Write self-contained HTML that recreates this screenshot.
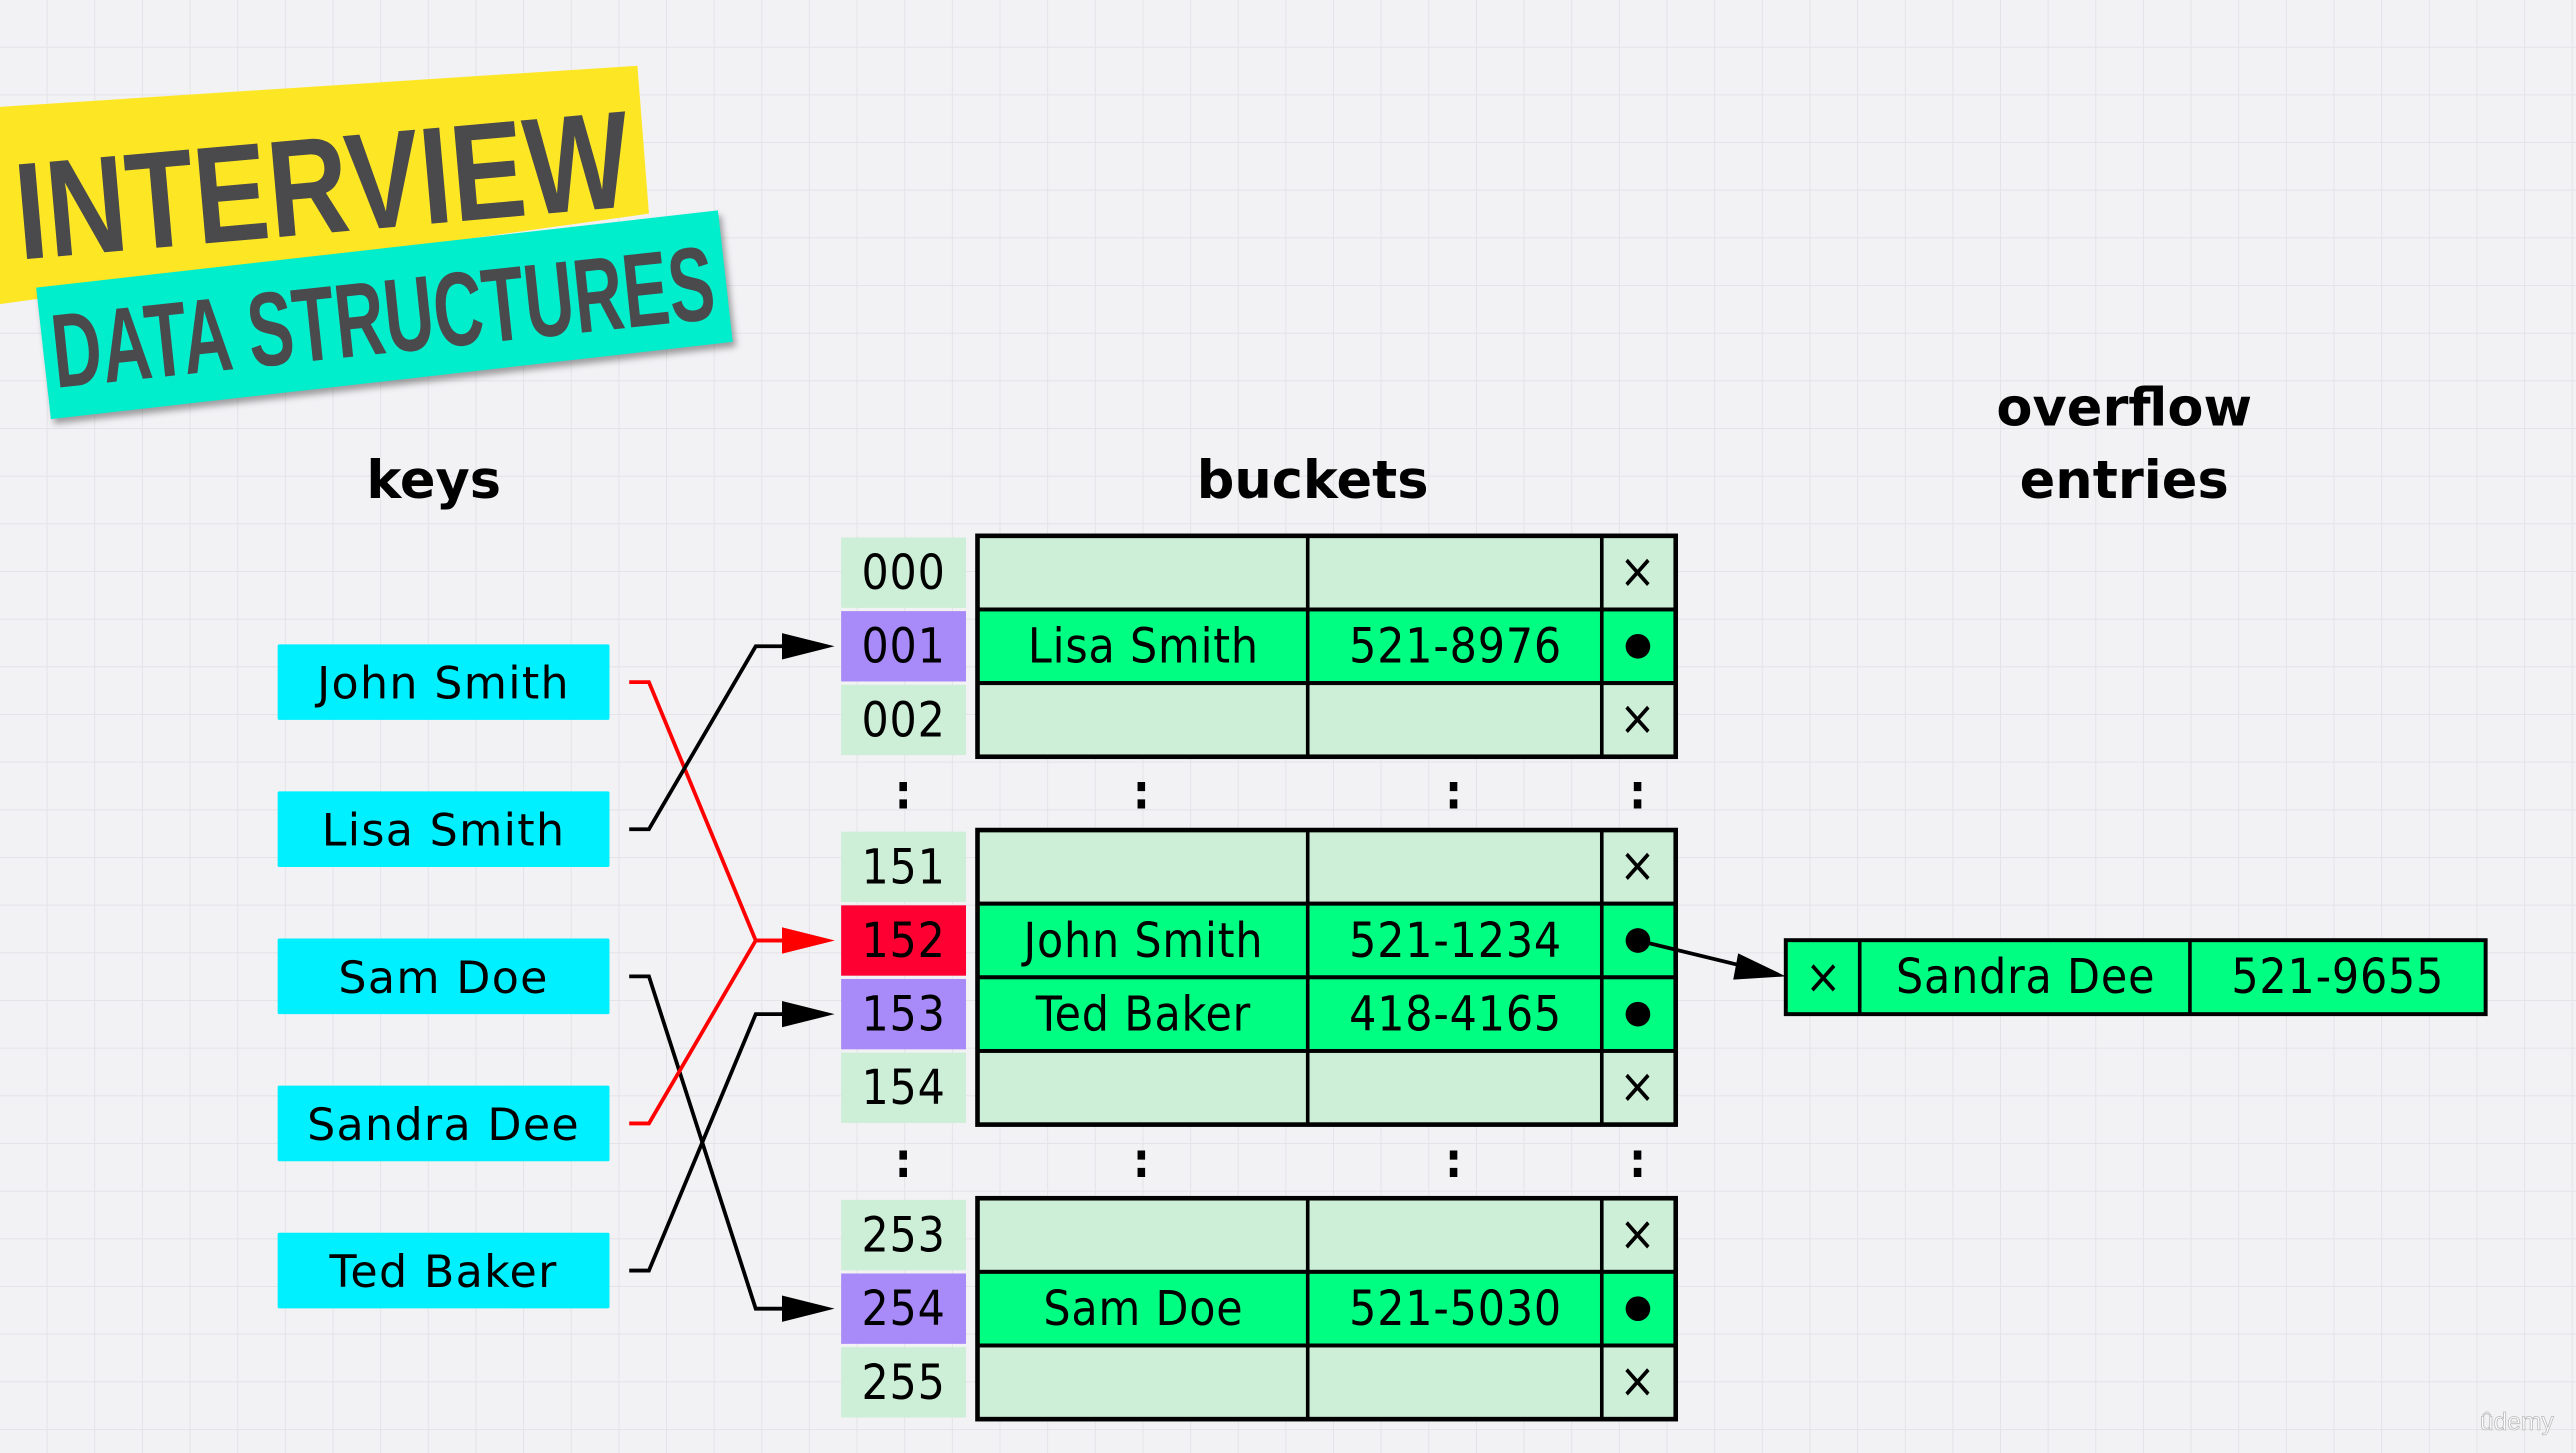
<!DOCTYPE html>
<html><head><meta charset="utf-8"><style>
html,body{margin:0;padding:0;background:#f2f1f4;overflow:hidden}
svg{display:block}
.k{font-family:"DejaVu Sans","Liberation Sans",sans-serif;font-size:27px;letter-spacing:0.8px}
.t{font-family:"DejaVu Sans Condensed","DejaVu Sans","Liberation Sans",sans-serif;font-size:29px;letter-spacing:0.5px}
.h{font-family:"DejaVu Sans","Liberation Sans",sans-serif;font-size:32px;font-weight:bold}
.b{font-family:"Liberation Sans Narrow","Liberation Sans",sans-serif;font-weight:bold;fill:#4a494c}
</style></head><body>
<svg id="s" width="2576" height="1453" viewBox="0 0 1568 884" preserveAspectRatio="none" xmlns="http://www.w3.org/2000/svg">
<defs>
<pattern id="g" width="29" height="29" patternUnits="userSpaceOnUse"><path d="M29 0V29H0" fill="none" stroke="#e4e3e7" stroke-width="1.2"/></pattern>
</defs>
<rect width="1568" height="884" fill="#f2f1f4"/>
<rect width="1568" height="884" fill="url(#g)"/>
<g>
<polygon points="0,65 388,40 395,130 0,185" fill="#fde725"/>
<text class="b" x="0" y="0" font-size="84" textLength="375" lengthAdjust="spacingAndGlyphs" transform="translate(12,158) rotate(-5)">INTERVIEW</text>
<polygon points="22,175 437,128 446,208 31,255" fill="#00eecc" style="filter:drop-shadow(2px 3px 2px rgba(0,0,0,.35))"/>
<text class="b" x="0" y="0" font-size="64" textLength="405" lengthAdjust="spacingAndGlyphs" transform="translate(34,236) rotate(-6)">DATA STRUCTURES</text>
</g>
<text class="h" x="264" y="303" text-anchor="middle">keys</text>
<text class="h" x="799" y="303" text-anchor="middle">buckets</text>
<text class="h" x="1293" y="259" text-anchor="middle">overflow</text>
<text class="h" x="1293" y="303" text-anchor="middle">entries</text>
<g id="keys"></g>
<g id="links"></g>
<g id="table"></g>
<g id="over"></g>
<text x="1532" y="870" font-family="Liberation Sans,sans-serif" font-size="15" fill="#fff" stroke="#bbb" stroke-width="0.5" text-anchor="middle">ûdemy</text>
</svg>
<script>
const NS="http://www.w3.org/2000/svg";
const keyNames=["John Smith","Lisa Smith","Sam Doe","Sandra Dee","Ted Baker"];
const keyTargets=["152","001","254","152","153"];
const indices=[["000","001","002"],["151","152","153","154"],["253","254","255"]];
const names={"001":"Lisa Smith","152":"John Smith","153":"Ted Baker","254":"Sam Doe"};
const phones={"001":"521-8976","152":"521-1234","153":"418-4165","254":"521-5030"};
const hashColor={"001":"#a98af9","152":"#fe0032","153":"#a98af9","254":"#a98af9"};
const overflow=["Sandra Dee","521-9655"];
function mk(tag,attrs,parent,text){const e=document.createElementNS(NS,tag);for(const k in attrs)e.setAttribute(k,attrs[k]);if(text!==undefined)e.textContent=text;parent.appendChild(e);return e;}
const RH=44.8, groupTops=[326,505,729];
const rowY={};
const T=document.getElementById('table');
indices.forEach((grp,gi)=>{
  grp.forEach((id,ri)=>{
    const y=groupTops[gi]+ri*RH; rowY[id]=y+RH/2;
    const filled=!!names[id];
    const ix=mk('rect',{x:512,y:y+1,width:76,height:RH-2,fill:hashColor[id]||'#cdeed7'},T);
    
    
    const it=mk('text',{x:550,y:y+RH/2+10,'text-anchor':'middle',class:'t',fill:'#000'},T,id);
    
    
    const row=mk('rect',{x:595,y:y,width:425,height:RH,fill:filled?'#00fe82':'#cdeed7',stroke:'#000','stroke-width':2.4},T);
    
    
    mk('line',{x1:796,y1:y,x2:796,y2:y+RH,stroke:'#000','stroke-width':2.2},T);
    mk('line',{x1:975,y1:y,x2:975,y2:y+RH,stroke:'#000','stroke-width':2.2},T);
    if(filled){
      const n=mk('text',{x:696,y:y+RH/2+10,'text-anchor':'middle',class:'t'},T,names[id]);
      
      
      const p=mk('text',{x:886,y:y+RH/2+10,'text-anchor':'middle',class:'t'},T,phones[id]);
      
      
      const d=mk('circle',{cx:997,cy:y+RH/2,r:7.5,fill:'#000'},T);
      
      
    } else {
      const x=mk('text',{x:997,y:y+RH/2+9,'text-anchor':'middle',class:'t','font-size':'27'},T,'×');
      
      
    }
  });
  mk('rect',{x:595,y:groupTops[gi],width:425,height:grp.length*RH,fill:'none',stroke:'#000','stroke-width':2.8},T);
});
[484,708].forEach(cy=>{[550,695,885,997].forEach(cx=>{
  const c=mk('text',{x:cx,y:cy+8,'text-anchor':'middle',class:'t','font-weight':'bold'},T,':');
  
  
});});
const K=document.getElementById('keys'), L=document.getElementById('links');
keyNames.forEach((k,i)=>{
  const cy=415+i*89.5;
  const r=mk('rect',{x:169,y:cy-23,width:202,height:46,fill:'#00f0ff',rx:1},K);
  
  
  const t=mk('text',{x:270,y:cy+10,'text-anchor':'middle',class:'k'},K,k);
  
  
  const ty=rowY[keyTargets[i]];
  const red=keyTargets[i]==="152";
  const col=red?'#f00':'#000';
  const pl=mk('polyline',{points:`383,${cy} 395,${cy} 460,${ty} 478,${ty}`,fill:'none',stroke:col,'stroke-width':2.3},L);
  
  
  const ah=mk('path',{d:`M476 ${ty-8}L508 ${ty}L476 ${ty+8}Z`,fill:col},L);
  
  
});
const O=document.getElementById('over');
const oy=572;
const orow=mk('rect',{x:1087,y:oy,width:426,height:45,fill:'#00fe82',stroke:'#000','stroke-width':2.4},O);


mk('line',{x1:1132,y1:oy,x2:1132,y2:oy+45,stroke:'#000','stroke-width':2.2},O);
mk('line',{x1:1333,y1:oy,x2:1333,y2:oy+45,stroke:'#000','stroke-width':2.2},O);
const ox=mk('text',{x:1110,y:oy+32,'text-anchor':'middle',class:'t','font-size':'27'},O,'×');


const on=mk('text',{x:1233,y:oy+32,'text-anchor':'middle',class:'t'},O,overflow[0]);


const op=mk('text',{x:1423,y:oy+32,'text-anchor':'middle',class:'t'},O,overflow[1]);


const ol=mk('line',{x1:997,y1:rowY["152"],x2:1062,y2:588,stroke:'#000','stroke-width':2.3},O);


const oa=mk('path',{d:'M1058 580L1087 594L1055 596Z',fill:'#000'},O);


</script>
</body></html>
